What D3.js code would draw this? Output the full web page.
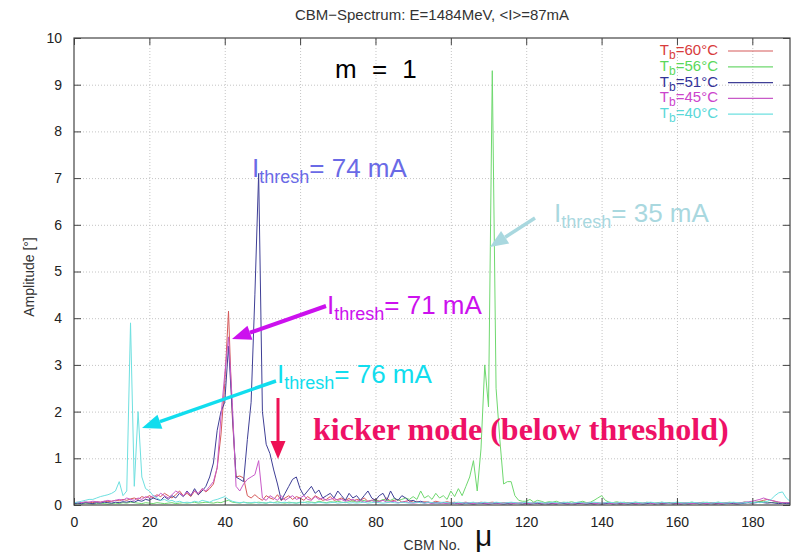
<!DOCTYPE html>
<html><head><meta charset="utf-8">
<script src="https://cdn.jsdelivr.net/npm/d3@7"></script>
<style>body{margin:0;background:#fff}svg{display:block}</style>
</head><body>
<svg id="c" width="793" height="553"></svg>
<script>
const xTicks = [0,20,40,60,80,100,120,140,160,180];
const yTicks = [0,1,2,3,4,5,6,7,8,9,10];
const legendLabels = ["60°C","56°C","51°C","45°C","40°C"];

// amplitude per coupled-bunch mode 0..190
const t60 = [
0.03,0.04,0.05,0.04,0.06,0.05,0.07,0.06,0.08,0.07,
0.08,0.1,0.09,0.12,0.1,0.13,0.15,0.12,0.18,0.15,
0.2,0.15,0.22,0.18,0.25,0.2,0.15,0.22,0.3,0.2,
0.25,0.18,0.3,0.22,0.35,0.28,0.35,0.45,0.8,1.5,
2.6,4.15,1.9,0.6,0.62,0.58,0.2,0.15,0.22,0.15,
0.1,0.2,0.15,0.12,0.22,0.1,0.15,0.2,0.12,0.18,
0.15,0.1,0.18,0.12,0.2,0.15,0.1,0.12,0.18,0.1,
0.12,0.15,0.1,0.14,0.08,0.12,0.1,0.15,0.08,0.1,
0.12,0.08,0.1,0.15,0.08,0.1,0.12,0.06,0.08,0.1,
0.06,0.08,0.05,0.07,0.06,0.05,0.08,0.06,0.05,0.07,
0.05,0.06,0.04,0.05,0.06,0.04,0.05,0.04,0.06,0.05,
0.05,0.06,0.05,0.04,0.05,0.04,0.05,0.04,0.04,0.05,
0.04,0.03,0.05,0.04,0.03,0.04,0.05,0.03,0.04,0.03,
0.04,0.05,0.03,0.04,0.03,0.05,0.04,0.03,0.04,0.05,
0.03,0.04,0.05,0.03,0.04,0.03,0.04,0.05,0.03,0.04,
0.04,0.03,0.04,0.05,0.03,0.04,0.03,0.05,0.04,0.03,
0.04,0.05,0.03,0.04,0.05,0.03,0.04,0.03,0.04,0.05,
0.03,0.04,0.05,0.04,0.03,0.05,0.04,0.05,0.06,0.05,
0.05,0.06,0.08,0.1,0.12,0.1,0.08,0.06,0.05,0.05,
0.05];
const t56 = [
0.02,0.03,0.02,0.04,0.03,0.02,0.03,0.04,0.03,0.02,
0.03,0.04,0.03,0.05,0.04,0.06,0.05,0.04,0.03,0.05,
0.04,0.03,0.05,0.04,0.03,0.04,0.05,0.03,0.04,0.05,
0.04,0.05,0.06,0.04,0.05,0.06,0.05,0.04,0.06,0.05,
0.08,0.1,0.06,0.05,0.04,0.06,0.05,0.04,0.05,0.06,
0.05,0.04,0.06,0.05,0.07,0.05,0.04,0.06,0.05,0.04,
0.06,0.05,0.07,0.06,0.05,0.08,0.06,0.05,0.07,0.06,
0.08,0.06,0.05,0.07,0.09,0.06,0.08,0.1,0.07,0.09,
0.1,0.08,0.12,0.09,0.1,0.14,0.1,0.12,0.15,0.12,
0.18,0.12,0.3,0.15,0.2,0.12,0.25,0.15,0.2,0.12,
0.3,0.18,0.35,0.2,0.4,0.6,0.95,0.3,1.2,3.0,
2.1,9.3,2.5,1.4,0.45,0.5,0.5,0.2,0.1,0.08,
0.08,0.12,0.06,0.1,0.08,0.05,0.07,0.06,0.08,0.05,
0.06,0.05,0.07,0.05,0.06,0.08,0.05,0.06,0.1,0.15,
0.2,0.1,0.06,0.05,0.07,0.05,0.06,0.04,0.05,0.06,
0.05,0.04,0.06,0.05,0.04,0.05,0.06,0.04,0.05,0.04,
0.06,0.05,0.04,0.05,0.06,0.04,0.05,0.06,0.05,0.04,
0.05,0.06,0.04,0.05,0.06,0.05,0.04,0.05,0.06,0.05,
0.05,0.06,0.07,0.08,0.06,0.05,0.06,0.05,0.04,0.05,
0.05];
const t51 = [
0.03,0.04,0.03,0.05,0.04,0.03,0.05,0.04,0.06,0.05,
0.04,0.06,0.05,0.07,0.06,0.08,0.06,0.1,0.08,0.12,
0.1,0.15,0.12,0.1,0.18,0.12,0.2,0.15,0.25,0.18,
0.3,0.2,0.35,0.22,0.3,0.4,0.6,0.9,1.6,2.0,
2.2,3.4,2.0,0.6,0.55,0.5,1.4,2.2,4.5,7.1,
2.0,1.3,1.1,0.75,0.45,0.1,0.25,0.4,0.55,0.6,
0.35,0.2,0.3,0.4,0.25,0.32,0.15,0.2,0.25,0.15,
0.3,0.2,0.1,0.25,0.15,0.2,0.1,0.2,0.3,0.15,
0.1,0.2,0.25,0.1,0.3,0.15,0.1,0.2,0.15,0.08,
0.1,0.06,0.08,0.05,0.06,0.04,0.05,0.04,0.05,0.04,
0.03,0.04,0.03,0.02,0.04,0.03,0.02,0.03,0.04,0.03,
0.02,0.03,0.04,0.03,0.02,0.03,0.02,0.04,0.03,0.02,
0.03,0.02,0.03,0.04,0.02,0.03,0.02,0.03,0.02,0.04,
0.03,0.02,0.03,0.02,0.04,0.03,0.02,0.03,0.02,0.03,
0.02,0.03,0.04,0.02,0.03,0.02,0.03,0.02,0.03,0.02,
0.03,0.02,0.03,0.04,0.02,0.03,0.02,0.03,0.04,0.02,
0.03,0.02,0.03,0.02,0.03,0.04,0.02,0.03,0.02,0.03,
0.02,0.03,0.02,0.03,0.04,0.03,0.02,0.03,0.04,0.05,
0.04,0.05,0.06,0.05,0.04,0.05,0.04,0.03,0.04,0.03,
0.03];
const t45 = [
0.05,0.06,0.05,0.07,0.06,0.08,0.07,0.06,0.08,0.1,
0.08,0.1,0.12,0.1,0.15,0.12,0.1,0.15,0.12,0.18,
0.15,0.2,0.18,0.25,0.2,0.15,0.22,0.3,0.25,0.2,
0.28,0.22,0.3,0.25,0.35,0.3,0.4,0.5,0.8,1.9,
2.8,3.6,2.2,0.4,0.3,0.45,0.55,0.6,0.65,0.95,
0.15,0.1,0.2,0.15,0.1,0.2,0.1,0.15,0.2,0.12,
0.15,0.2,0.12,0.1,0.18,0.12,0.15,0.1,0.12,0.15,
0.1,0.12,0.08,0.1,0.12,0.08,0.1,0.06,0.08,0.1,
0.06,0.08,0.1,0.06,0.07,0.08,0.05,0.06,0.07,0.05,
0.04,0.05,0.06,0.04,0.05,0.03,0.04,0.05,0.04,0.03,
0.04,0.05,0.03,0.04,0.05,0.04,0.03,0.04,0.05,0.04,
0.03,0.04,0.05,0.03,0.04,0.05,0.04,0.03,0.04,0.05,
0.04,0.03,0.04,0.05,0.04,0.03,0.05,0.04,0.03,0.04,
0.05,0.04,0.03,0.04,0.05,0.03,0.04,0.05,0.04,0.03,
0.04,0.05,0.04,0.03,0.04,0.05,0.03,0.04,0.05,0.04,
0.03,0.04,0.05,0.04,0.03,0.04,0.05,0.04,0.03,0.05,
0.04,0.03,0.05,0.04,0.03,0.04,0.05,0.04,0.03,0.04,
0.05,0.04,0.03,0.05,0.04,0.05,0.04,0.05,0.06,0.07,
0.08,0.1,0.12,0.15,0.12,0.1,0.08,0.06,0.05,0.05,
0.05];
const t40 = [
0.05,0.06,0.08,0.1,0.12,0.12,0.15,0.18,0.2,0.22,
0.25,0.3,0.5,0.2,0.3,3.9,0.4,2.0,0.6,0.35,
0.3,0.2,0.15,0.1,0.12,0.08,0.1,0.06,0.08,0.05,
0.06,0.05,0.08,0.06,0.1,0.08,0.06,0.1,0.12,0.15,
0.18,0.12,0.08,0.06,0.05,0.06,0.04,0.05,0.06,0.04,
0.05,0.04,0.06,0.05,0.04,0.05,0.06,0.04,0.05,0.04,
0.05,0.06,0.04,0.05,0.04,0.06,0.05,0.04,0.05,0.06,
0.04,0.05,0.06,0.04,0.05,0.04,0.05,0.06,0.04,0.05,
0.06,0.05,0.04,0.05,0.06,0.05,0.04,0.06,0.05,0.04,
0.05,0.06,0.05,0.04,0.06,0.05,0.04,0.05,0.06,0.05,
0.04,0.05,0.06,0.05,0.04,0.05,0.06,0.04,0.05,0.06,
0.05,0.04,0.06,0.05,0.04,0.05,0.06,0.05,0.04,0.05,
0.06,0.05,0.04,0.06,0.05,0.04,0.05,0.06,0.05,0.04,
0.05,0.06,0.04,0.05,0.06,0.05,0.04,0.05,0.06,0.05,
0.04,0.05,0.06,0.05,0.04,0.06,0.05,0.04,0.05,0.06,
0.05,0.04,0.05,0.06,0.05,0.04,0.06,0.05,0.04,0.05,
0.06,0.05,0.04,0.05,0.06,0.05,0.04,0.05,0.06,0.04,
0.05,0.06,0.05,0.04,0.05,0.06,0.05,0.04,0.05,0.06,
0.05,0.06,0.05,0.06,0.08,0.12,0.2,0.26,0.28,0.15,
0.08];

const series = [
  {data:t60, line:"#d65a5a", text:"#d83c3c"},
  {data:t56, line:"#6fd86f", text:"#5ad85a"},
  {data:t51, line:"#3f3f96", text:"#333399"},
  {data:t45, line:"#c85ac8", text:"#cc44cc"},
  {data:t40, line:"#6ee0e0", text:"#5ad8d8"}
];

const L=74, R=790, T=38, B=505;
const x = d3.scaleLinear().domain([0,190]).range([L,R]);
const y = d3.scaleLinear().domain([0,10]).range([B,T]);
const svg = d3.select("#c");
const font = "'Liberation Sans', Arial, sans-serif";

// grid
const grid = svg.append("g");
grid.append("g").attr("transform",`translate(0,${B})`)
  .call(d3.axisBottom(x).tickValues(xTicks.filter(v=>v>0)).tickSize(-(B-T)).tickFormat(""))
  .call(g=>{g.select(".domain").remove();g.selectAll("line").attr("stroke","#c4c4c4").attr("stroke-dasharray","1,2");});
grid.append("g").attr("transform",`translate(${L},0)`)
  .call(d3.axisLeft(y).tickValues(yTicks.filter(v=>v>0&&v<10)).tickSize(-(R-L)).tickFormat(""))
  .call(g=>{g.select(".domain").remove();g.selectAll("line").attr("stroke","#c4c4c4").attr("stroke-dasharray","1,2");});

// data lines
svg.append("clipPath").attr("id","clip").append("rect").attr("x",L).attr("y",T).attr("width",R-L).attr("height",B-T);
const line = d3.line().x((d,i)=>x(i)).y(d=>y(d));
const lg = svg.append("g").attr("clip-path","url(#clip)");
series.forEach(s=>{
  lg.append("path").attr("d",line(s.data)).attr("fill","none").attr("stroke",s.line).attr("stroke-width",1);
});

// axes
function styleAxis(g){g.select(".domain").remove();g.selectAll("line").attr("stroke","#444");
  g.selectAll("text").attr("fill","#222").style("font-family",font).style("font-size","14px");}
svg.append("g").attr("transform",`translate(0,${B})`)
  .call(d3.axisBottom(x).tickValues(xTicks).tickSizeInner(-7).tickSizeOuter(0).tickPadding(12))
  .call(styleAxis);
svg.append("g").attr("transform",`translate(0,${T})`)
  .call(d3.axisTop(x).tickValues(xTicks).tickSizeInner(-7).tickSizeOuter(0).tickFormat(""))
  .call(styleAxis);
svg.append("g").attr("transform",`translate(${L},0)`)
  .call(d3.axisLeft(y).tickValues(yTicks).tickSizeInner(-7).tickSizeOuter(0).tickPadding(12))
  .call(styleAxis);
svg.append("g").attr("transform",`translate(${R},0)`)
  .call(d3.axisRight(y).tickValues(yTicks).tickSizeInner(-7).tickSizeOuter(0).tickFormat(""))
  .call(styleAxis);
svg.append("rect").attr("x",L).attr("y",T).attr("width",R-L).attr("height",B-T)
  .attr("fill","none").attr("stroke","#444").attr("stroke-width",1.2);

// titles
svg.append("text").attr("x",432).attr("y",20).attr("text-anchor","middle")
  .style("font-family",font).style("font-size","15px").attr("fill","#333")
  .text("CBM\u2212Spectrum: E=1484MeV, <I>=87mA");
svg.append("text").attr("transform","translate(34,277) rotate(-90)").attr("text-anchor","middle")
  .style("font-family",font).style("font-size","14px").attr("fill","#333").text("Amplitude [°]");
svg.append("text").attr("x",432).attr("y",550).attr("text-anchor","middle")
  .style("font-family",font).style("font-size","14px").attr("fill","#333").text("CBM No.");
svg.append("text").attr("x",475).attr("y",546)
  .style("font-family",font).style("font-size","30px").attr("fill","#111").text("μ");

// legend
series.forEach((s,i)=>{
  const yy = 55 + i*15.8;
  const t = svg.append("text").attr("x",718).attr("y",yy).attr("text-anchor","end")
    .style("font-family",font).style("font-size","15px").attr("fill",s.text);
  t.append("tspan").text("T");
  t.append("tspan").attr("dy",4).style("font-size","12px").text("b");
  t.append("tspan").attr("dy",-4).text("=" + legendLabels[i]);
  svg.append("line").attr("x1",728).attr("x2",773).attr("y1",yy-4).attr("y2",yy-4)
    .attr("stroke",s.line).attr("stroke-width",1.2);
});

// annotations
svg.append("text").attr("x",335).attr("y",78).style("font-family",font).style("font-size","26px")
  .style("word-spacing","8px").attr("fill","#000").text("m = 1");

function thresh(xp, yp, val, color){
  const t = svg.append("text").attr("x",xp).attr("y",yp).style("font-family",font)
    .style("font-size","26px").attr("fill",color);
  t.append("tspan").text("I");
  t.append("tspan").attr("dy",6).style("font-size","18px").text("thresh");
  t.append("tspan").attr("dy",-6).text("= " + val + " mA");
}
thresh(252,177,"74","#6a6ae6");
thresh(327,314,"71","#cc11ee");
thresh(277,383,"76","#11ddee");
thresh(554,222,"35","#a9d8df");

function arrow(x1,y1,x2,y2,color,w,hl,hw){
  const ang = Math.atan2(y2-y1,x2-x1);
  const bx = x2 - hl*Math.cos(ang), by = y2 - hl*Math.sin(ang);
  svg.append("line").attr("x1",x1).attr("y1",y1).attr("x2",bx).attr("y2",by)
    .attr("stroke",color).attr("stroke-width",w);
  const px = -Math.sin(ang)*hw/2, py = Math.cos(ang)*hw/2;
  svg.append("path").attr("d",`M${x2},${y2}L${bx+px},${by+py}L${bx-px},${by-py}Z`).attr("fill",color);
}
arrow(326,306,232,339,"#cc11ee",4,19,15);
arrow(276,381,142,428,"#11ddee",3.5,19,15);
arrow(535,218,490,247,"#a9d8df",3.5,18,15);
arrow(278,398,278,459,"#ee1155",3,18,15);

svg.append("text").attr("x",313).attr("y",440)
  .style("font-family","'Liberation Serif','Times New Roman',serif").style("font-weight","bold")
  .style("font-size","32px").attr("fill","#ee1166").text("kicker mode (below threshold)");
</script>
</body></html>
